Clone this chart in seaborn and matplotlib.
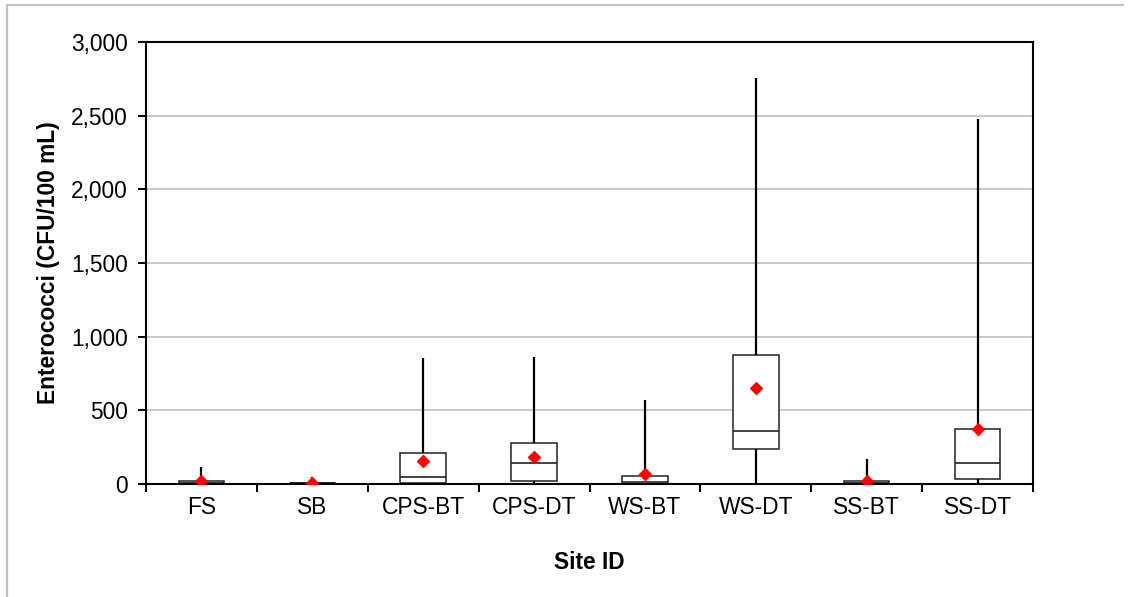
import numpy as np
import pandas as pd
import seaborn as sns
import matplotlib
matplotlib.use("Agg")
import matplotlib.pyplot as plt
from matplotlib.lines import Line2D
from matplotlib.ticker import FuncFormatter

# Summary statistics per sampling site (CFU/100 mL)
sites = ["FS", "SB", "CPS-BT", "CPS-DT", "WS-BT", "WS-DT", "SS-BT", "SS-DT"]
minimum = [0, 0, 0, 0, 0, 0, 0, 0]
q1 = [2, 1, 5, 20, 3, 240, 2, 34]
median = [8, 4, 45, 140, 13, 362, 8, 140]
q3 = [22, 10, 208, 276, 57, 874, 18, 375]
maximum = [115, 50, 853, 864, 570, 2756, 170, 2475]
mean = [20, 10, 155, 181, 68, 654, 20, 375]

# Five-number summary as long-form rows: with five values the quartiles
# computed by the box plot fall exactly on q1/median/q3.
rows = []
for s, a, b, c, d, e in zip(sites, minimum, q1, median, q3, maximum):
    for v in (a, b, c, d, e):
        rows.append({"Site ID": s, "value": v})
df = pd.DataFrame(rows)
means = pd.DataFrame({"Site ID": sites, "mean": mean})

sns.set_style("white")
plt.rcParams["font.family"] = ["Liberation Sans", "DejaVu Sans"]
plt.rcParams.update({"text.color": "black", "axes.labelcolor": "black",
                     "xtick.color": "black", "ytick.color": "black"})

W, H = 1133, 597
fig = plt.figure(figsize=(W / 100, H / 100), dpi=100)
ax = fig.add_axes([146 / W, 1 - 484 / H, (1033 - 146) / W, (484 - 42) / H])

sns.boxplot(
    data=df, x="Site ID", y="value", order=sites, ax=ax,
    whis=(0, 100), width=0.41, showcaps=False, fill=True,
    boxprops=dict(facecolor="white", edgecolor="#222222", linewidth=1.1),
    medianprops=dict(color="#222222", linewidth=1.2),
    whiskerprops=dict(color="black", linewidth=1.6),
)
sns.stripplot(
    data=means, x="Site ID", y="mean", order=sites, ax=ax,
    jitter=False, marker="D", color="#ff0000", size=7,
    linewidth=0, zorder=5,
)

# Axis ranges and grid
ax.set_ylim(0, 3000)
ax.set_xlim(-0.5, len(sites) - 0.5)
ax.set_yticks(np.arange(0, 3001, 500))
ax.yaxis.set_major_formatter(FuncFormatter(lambda v, p: f"{int(v):,}"))
for yv in range(500, 3000, 500):
    ax.axhline(yv, color="#c0c0c0", linewidth=1.2, zorder=0)

# Ticks at category boundaries, labels at centres
ax.set_xticks(np.arange(-0.5, len(sites), 1))
ax.set_xticklabels([])
ax.set_xticks(np.arange(len(sites)), minor=True)
ax.set_xticklabels(sites, minor=True)
ax.tick_params(axis="x", which="major", direction="out", length=6,
               width=1.4, color="black", bottom=True)
ax.tick_params(axis="x", which="minor", length=0, pad=9, labelsize=16.4,
               labelcolor="black")
ax.tick_params(axis="y", direction="out", length=6, width=1.4,
               color="black", left=True, pad=7, labelsize=16.4,
               labelcolor="black")

for sp in ax.spines.values():
    sp.set_visible(True)
    sp.set_color("black")
    sp.set_linewidth(1.5)

ax.set_xlabel("Site ID", fontsize=16.4, fontweight="bold", labelpad=23,
              color="black")
ax.set_ylabel("Enterococci (CFU/100 mL)", fontsize=16.4, fontweight="bold",
              labelpad=8, color="black")

# Chart-area border
x0, y0 = 7 / W, 1 - 5 / H
fig.add_artist(Line2D([x0, x0], [0, y0], color="#c0c0c0", linewidth=1.6))
fig.add_artist(Line2D([x0, 1123 / W], [y0, y0], color="#c0c0c0", linewidth=1.6))

fig.savefig("out.png", dpi=100, facecolor="white")
